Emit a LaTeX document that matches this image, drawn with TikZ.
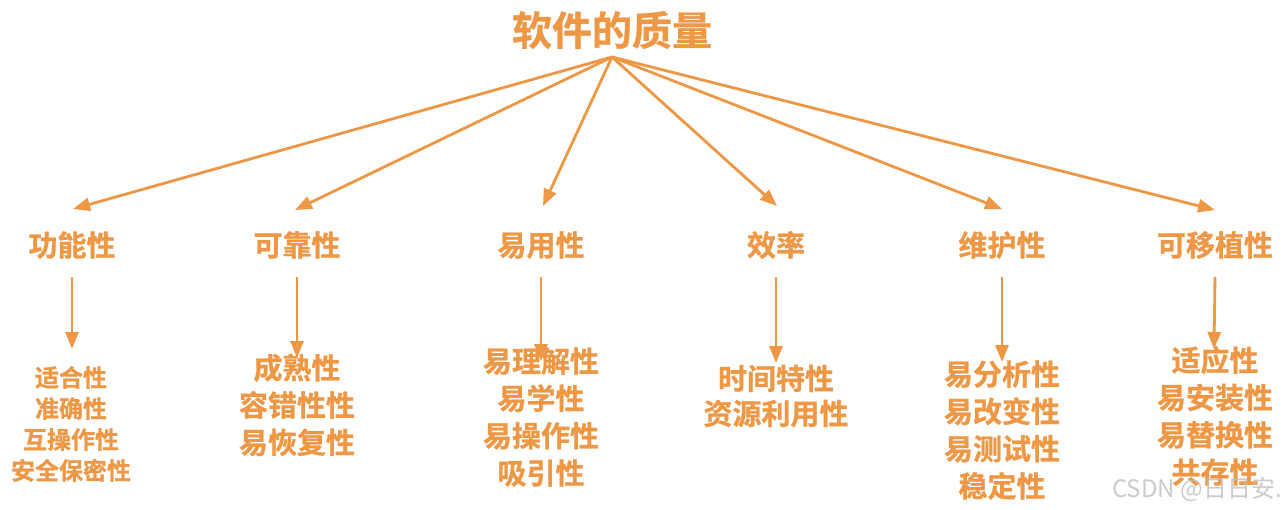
\documentclass[tikz,border=0pt]{standalone}
\usepackage{fontspec}
\newfontfamily\cjk{Noto Sans CJK SC}[BoldFont={Noto Sans CJK SC Bold},BoldFeatures={FakeBold=0.9}]
\usetikzlibrary{arrows.meta}
\definecolor{org}{RGB}{238,152,70}
\begin{document}
\begin{tikzpicture}[x=1pt,y=-1pt,
  txt/.style={text=org,inner sep=0pt,align=center},
  title/.style={txt,font=\cjk\bfseries\fontsize{40}{44}\selectfont},
  lvl/.style={txt,font=\cjk\bfseries\fontsize{29}{34}\selectfont},
  sub/.style={txt,font=\cjk\bfseries\fontsize{29}{37.3}\selectfont},
  subs/.style={txt,font=\cjk\bfseries\fontsize{24}{31}\selectfont},
  arr/.style={draw=org,line width=2.8pt,-{Triangle[length=17pt,width=13pt]}},
]
\fill[white] (0,0) rectangle (1287,509);
\useasboundingbox (0,0) rectangle (1287,509);

\node[title] (root) at (612,30) {软件的质量};
\coordinate (apex) at (612,57);

\node[lvl] (a) at (72,245) {功能性};
\node[lvl] (b) at (297,245) {可靠性};
\node[lvl] (c) at (541,245) {易用性};
\node[lvl] (d) at (776,245) {效率};
\node[lvl] (e) at (1002,245) {维护性};
\node[lvl] (f) at (1215,245) {可移植性};

\coordinate (ta) at (73,209);
\coordinate (tb) at (295,210);
\coordinate (tc) at (543,206);
\coordinate (td) at (777,206);
\coordinate (te) at (1002,209);
\coordinate (tf) at (1215,210);

\foreach \t in {ta,tb,tc,td,te,tf} \draw[arr] (apex) -- (\t);

\node[subs] (as) at (71,424) {适合性\\准确性\\互操作性\\安全保密性};
\node[sub] (bs) at (297,405) {成熟性\\容错性性\\易恢复性};
\node[sub] (cs) at (541,417) {易理解性\\易学性\\易操作性\\吸引性};
\node[sub,font=\cjk\bfseries\fontsize{29}{35}\selectfont] (ds) at (776,396) {时间特性\\资源利用性};
\node[sub] (es) at (1002,430) {易分析性\\易改变性\\易测试性\\稳定性};
\node[sub] (fs) at (1215,416) {适应性\\易安装性\\易替换性\\共存性};

\coordinate (va) at (72,349);
\coordinate (vb) at (297,358);
\coordinate (vc) at (541,361);
\coordinate (vd) at (776,363);
\coordinate (ve) at (1002,362);
\coordinate (vf) at (1214,349);

\draw[arr] (a.south |- 0,277) -- (va);
\draw[arr] (b.south |- 0,277) -- (vb);
\draw[arr] (c.south |- 0,277) -- (vc);
\draw[arr] (d.south |- 0,277) -- (vd);
\draw[arr] (e.south |- 0,277) -- (ve);
\draw[arr] (f.south |- 0,277) -- (vf);

\node[text=black!25,opacity=0.8,inner sep=0pt,anchor=west,font=\cjk\fontsize{24}{26}\selectfont] (wm) at (1112,489) {CSDN @日日安.};
\end{tikzpicture}
\end{document}
